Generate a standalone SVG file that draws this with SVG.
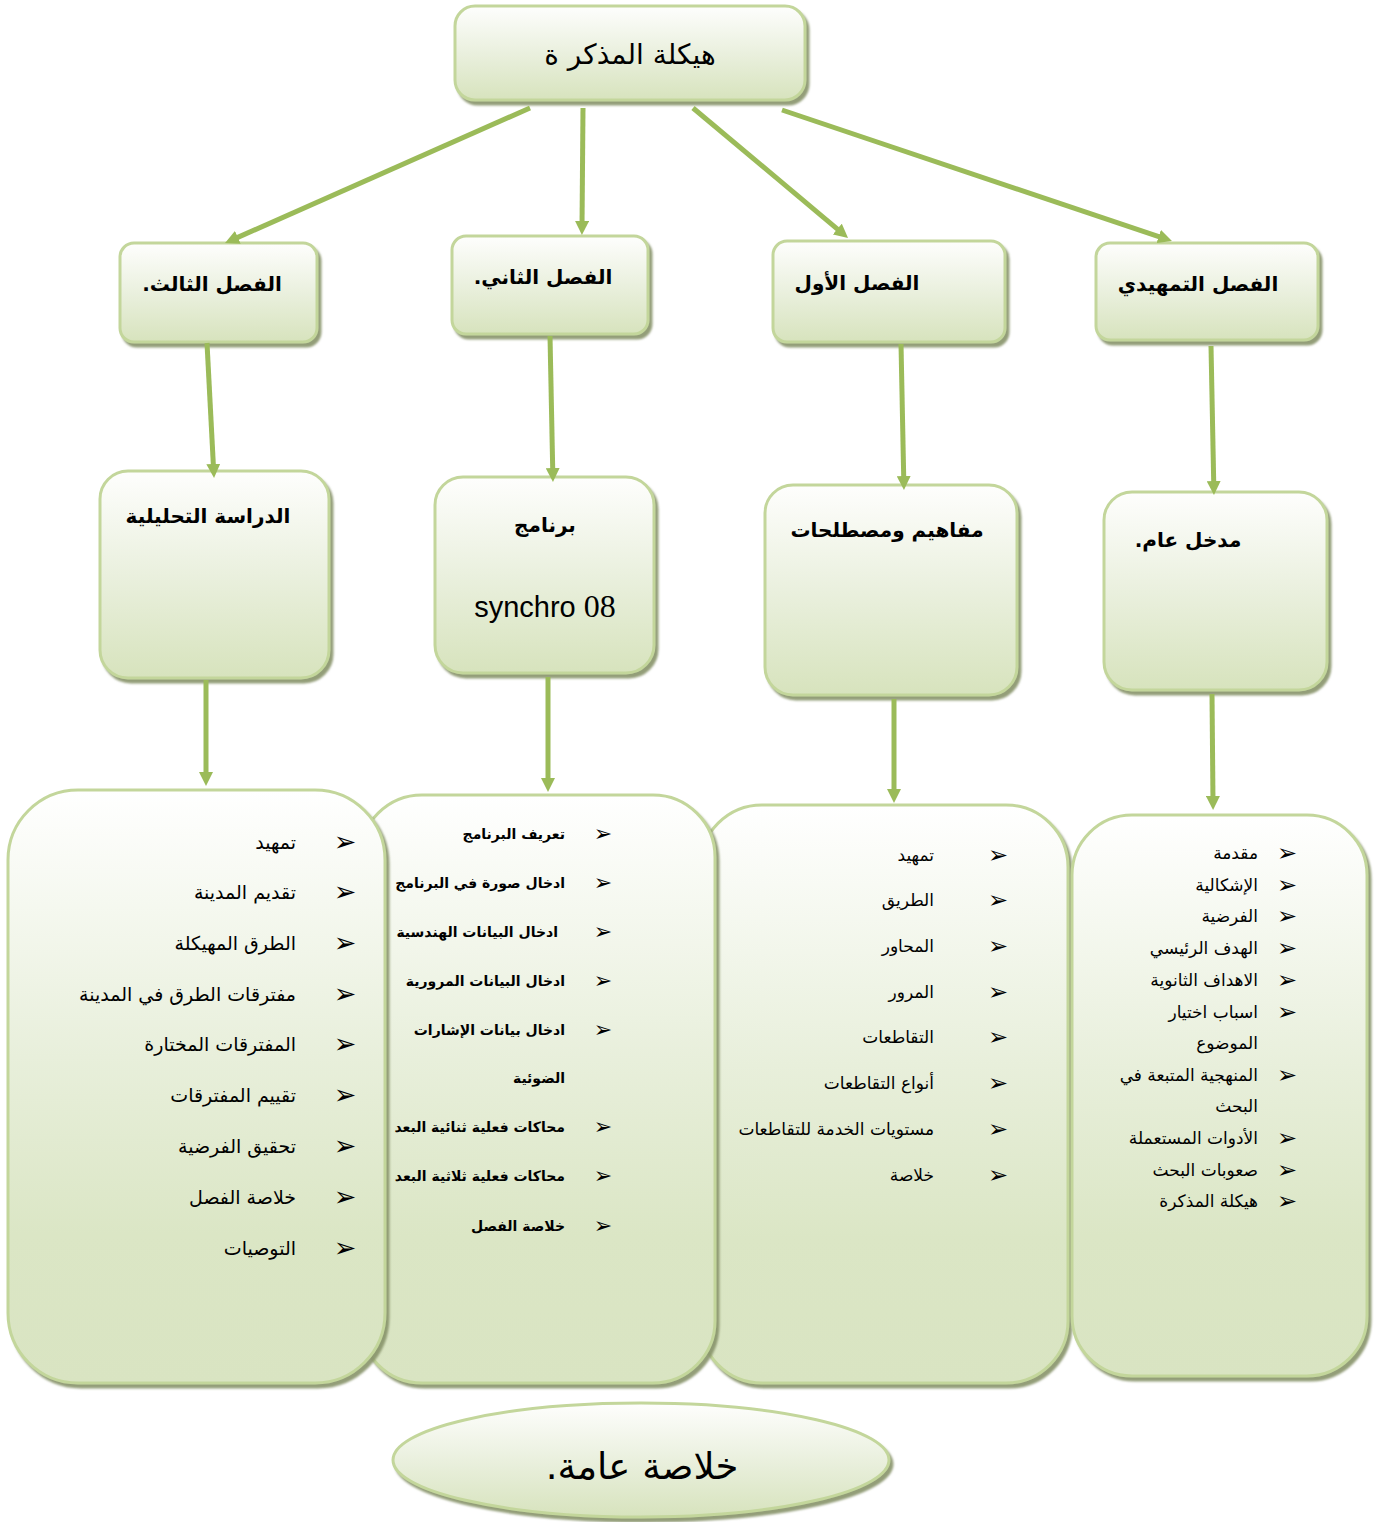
<svg xmlns="http://www.w3.org/2000/svg" width="1375" height="1522" viewBox="0 0 1375 1522">
<defs>
<linearGradient id="gf" x1="0" y1="0" x2="0" y2="1">
<stop offset="0" stop-color="#fefefd"/>
<stop offset="0.5" stop-color="#eaf0de"/>
<stop offset="1" stop-color="#d7e3bd"/>
</linearGradient>
<linearGradient id="gl" x1="0" y1="0" x2="0" y2="1">
<stop offset="0" stop-color="#ffffff"/>
<stop offset="0.45" stop-color="#e8efdb"/>
<stop offset="0.75" stop-color="#dbe6c5"/>
<stop offset="1" stop-color="#d9e4c2"/>
</linearGradient>
<filter id="sh" x="-10%" y="-10%" width="125%" height="125%">
<feDropShadow dx="3" dy="4" stdDeviation="0.8" flood-color="#87936a" flood-opacity="0.9"/>
</filter>
<marker id="ar" viewBox="0 0 10 10" refX="4" refY="5" markerWidth="14" markerHeight="14" markerUnits="userSpaceOnUse" orient="auto">
<path d="M0,0 L10,5 L0,10 z" fill="#9bbb59"/>
</marker>
</defs>
<style>
.box{fill:url(#gf);stroke:#c3d69b;stroke-width:3;filter:url(#sh)}
.lbox{fill:url(#gl);stroke:#c3d69b;stroke-width:3;filter:url(#sh)}
.con{stroke:#9bbb59;stroke-width:5;fill:none;marker-end:url(#ar)}
text{font-family:"DejaVu Sans","Noto Sans",sans-serif;fill:#000}
.hd{font-weight:bold;font-size:20px}
.it{font-size:17px}
.itb{font-size:14px;font-weight:bold}
.bl text{font-size:27px}
.bl2 text{font-size:22px}
.bl4 text{font-size:24px}
</style>

<g id="n-top">
<rect class="box" x="455" y="6" width="350" height="94" rx="20"/>
<text x="630" y="64" direction="rtl" text-anchor="middle" style="font-size:28px">هيكلة المذكر ة</text>
</g>

<g id="n-ch3">
<rect class="box" x="120" y="243" width="197" height="99" rx="14"/>
<text class="hd" x="212" y="291" direction="rtl" text-anchor="middle">الفصل الثالث.</text>
</g>
<g id="n-ch2">
<rect class="box" x="452" y="236" width="196" height="98" rx="14"/>
<text class="hd" x="543" y="284" direction="rtl" text-anchor="middle">الفصل الثاني.</text>
</g>
<g id="n-ch1">
<rect class="box" x="773" y="241" width="232" height="101" rx="14"/>
<text class="hd" x="857" y="290" direction="rtl" text-anchor="middle">الفصل الأول</text>
</g>
<g id="n-ch0">
<rect class="box" x="1096" y="243" width="222" height="97" rx="14"/>
<text class="hd" x="1198" y="291" direction="rtl" text-anchor="middle">الفصل التمهيدي</text>
</g>

<g id="n-m3">
<rect class="box" x="100" y="471" width="229" height="207" rx="28"/>
<text class="hd" x="208" y="523" direction="rtl" text-anchor="middle">الدراسة التحليلية</text>
</g>
<g id="n-m2">
<rect class="box" x="435" y="477" width="219" height="196" rx="28"/>
<text class="hd" x="545" y="532" direction="rtl" text-anchor="middle">برنامج</text>
<text x="545" y="617" text-anchor="middle" style="font-family:'Liberation Sans',sans-serif;font-size:29px">synchro <tspan style="font-family:'Liberation Serif',serif;font-size:32px">08</tspan></text>
</g>
<g id="n-m1">
<rect class="box" x="765" y="485" width="252" height="210" rx="28"/>
<text class="hd" x="887" y="537" direction="rtl" text-anchor="middle">مفاهيم ومصطلحات</text>
</g>
<g id="n-m0">
<rect class="box" x="1104" y="492" width="223" height="198" rx="28"/>
<text class="hd" x="1188" y="547" direction="rtl" text-anchor="middle">مدخل عام.</text>
</g>

<g id="n-l1">
<rect class="lbox" x="700" y="805" width="368" height="578" rx="62"/>
<g class="it" text-anchor="start">
<text x="934" y="861" direction="rtl">تمهيد</text>
<text x="934" y="906" direction="rtl">الطريق</text>
<text x="934" y="952" direction="rtl">المحاور</text>
<text x="934" y="998" direction="rtl">المرور</text>
<text x="934" y="1043" direction="rtl">التقاطعات</text>
<text x="934" y="1089" direction="rtl">أنواع التقاطعات</text>
<text x="934" y="1135" direction="rtl">مستويات الخدمة للتقاطعات</text>
<text x="934" y="1181" direction="rtl">خلاصة</text>
</g>
<g class="bl4" text-anchor="middle">
<text x="998" y="863">➢</text><text x="998" y="908">➢</text><text x="998" y="954">➢</text><text x="998" y="1000">➢</text><text x="998" y="1045">➢</text><text x="998" y="1091">➢</text><text x="998" y="1137">➢</text><text x="998" y="1183">➢</text>
</g>
</g>

<g id="n-l2">
<rect class="lbox" x="360" y="795" width="355" height="588" rx="62"/>
<g class="itb" text-anchor="start">
<text x="565" y="839" direction="rtl">تعريف البرنامج</text>
<text x="565" y="888" direction="rtl">ادخال صورة في البرنامج</text>
<text x="558" y="937" direction="rtl">ادخال البيانات الهندسية</text>
<text x="565" y="986" direction="rtl">ادخال البيانات المرورية</text>
<text x="565" y="1035" direction="rtl">ادخال بيانات الإشارات</text>
<text x="565" y="1083" direction="rtl">الضوئية</text>
<text x="565" y="1132" direction="rtl">محاكات فعلية ثنائية البعد</text>
<text x="565" y="1181" direction="rtl">محاكات فعلية ثلاثية البعد</text>
<text x="565" y="1231" direction="rtl">خلاصة الفصل</text>
</g>
<g class="bl2" text-anchor="middle">
<text x="603" y="841">➢</text><text x="603" y="890">➢</text><text x="603" y="939">➢</text><text x="603" y="988">➢</text><text x="603" y="1037">➢</text><text x="603" y="1134">➢</text><text x="603" y="1183">➢</text><text x="603" y="1233">➢</text>
</g>
</g>

<g id="n-l3">
<rect class="lbox" x="8" y="790" width="377" height="593" rx="70"/>
<g text-anchor="start" style="font-size:19px">
<text x="296" y="849" direction="rtl">تمهيد</text>
<text x="296" y="899" direction="rtl">تقديم المدينة</text>
<text x="296" y="950" direction="rtl">الطرق المهيكلة</text>
<text x="296" y="1001" direction="rtl">مفترقات الطرق في المدينة</text>
<text x="296" y="1051" direction="rtl">المفترقات المختارة</text>
<text x="296" y="1102" direction="rtl">تقييم المفترقات</text>
<text x="296" y="1153" direction="rtl">تحقيق الفرضية</text>
<text x="296" y="1204" direction="rtl">خلاصة الفصل</text>
<text x="296" y="1255" direction="rtl">التوصيات</text>
</g>
<g class="bl" text-anchor="middle">
<text x="345" y="851">➢</text><text x="345" y="901">➢</text><text x="345" y="952">➢</text><text x="345" y="1003">➢</text><text x="345" y="1053">➢</text><text x="345" y="1104">➢</text><text x="345" y="1155">➢</text><text x="345" y="1206">➢</text><text x="345" y="1257">➢</text>
</g>
</g>

<g id="n-l0">
<rect class="lbox" x="1072" y="815" width="295" height="561" rx="60"/>
<g class="it" text-anchor="start">
<text x="1258" y="859" direction="rtl">مقدمة</text>
<text x="1258" y="891" direction="rtl">الإشكالية</text>
<text x="1258" y="922" direction="rtl">الفرضية</text>
<text x="1258" y="954" direction="rtl">الهدف الرئيسي</text>
<text x="1258" y="986" direction="rtl">الاهداف الثانوية</text>
<text x="1258" y="1018" direction="rtl">اسباب اختيار</text>
<text x="1258" y="1049" direction="rtl">الموضوع</text>
<text x="1258" y="1081" direction="rtl">المنهجية المتبعة في</text>
<text x="1258" y="1112" direction="rtl">البحث</text>
<text x="1258" y="1144" direction="rtl">الأدوات المستعملة</text>
<text x="1258" y="1176" direction="rtl">صعوبات البحث</text>
<text x="1258" y="1207" direction="rtl">هيكلة المذكرة</text>
</g>
<g class="bl4" text-anchor="middle">
<text x="1287" y="861">➢</text><text x="1287" y="893">➢</text><text x="1287" y="924">➢</text><text x="1287" y="956">➢</text><text x="1287" y="988">➢</text><text x="1287" y="1020">➢</text><text x="1287" y="1083">➢</text><text x="1287" y="1146">➢</text><text x="1287" y="1178">➢</text><text x="1287" y="1209">➢</text>
</g>
</g>

<g id="n-end">
<ellipse cx="641" cy="1460" rx="248" ry="57" fill="url(#gf)" stroke="#c3d69b" stroke-width="3" filter="url(#sh)"/>
<text x="642" y="1479" direction="rtl" text-anchor="middle" style="font-size:37px">خلاصة عامة.</text>
</g>

<g id="connectors">
<line class="con" x1="530" y1="108" x2="232.7" y2="239.6"/>
<line class="con" x1="583" y1="108" x2="582" y2="226.6"/>
<line class="con" x1="693" y1="108" x2="841.6" y2="232.6"/>
<line class="con" x1="782" y1="110" x2="1164" y2="238.3"/>
<line class="con" x1="207" y1="343" x2="213.6" y2="469.6"/>
<line class="con" x1="550" y1="336" x2="552.8" y2="473.6"/>
<line class="con" x1="901" y1="344" x2="903.8" y2="481.6"/>
<line class="con" x1="1211" y1="346" x2="1213.8" y2="486.6"/>
<line class="con" x1="206" y1="680" x2="206" y2="777.6"/>
<line class="con" x1="548" y1="677" x2="548" y2="783.6"/>
<line class="con" x1="894" y1="699" x2="894" y2="794.6"/>
<line class="con" x1="1212" y1="694" x2="1213" y2="801.6"/>
</g>
</svg>
